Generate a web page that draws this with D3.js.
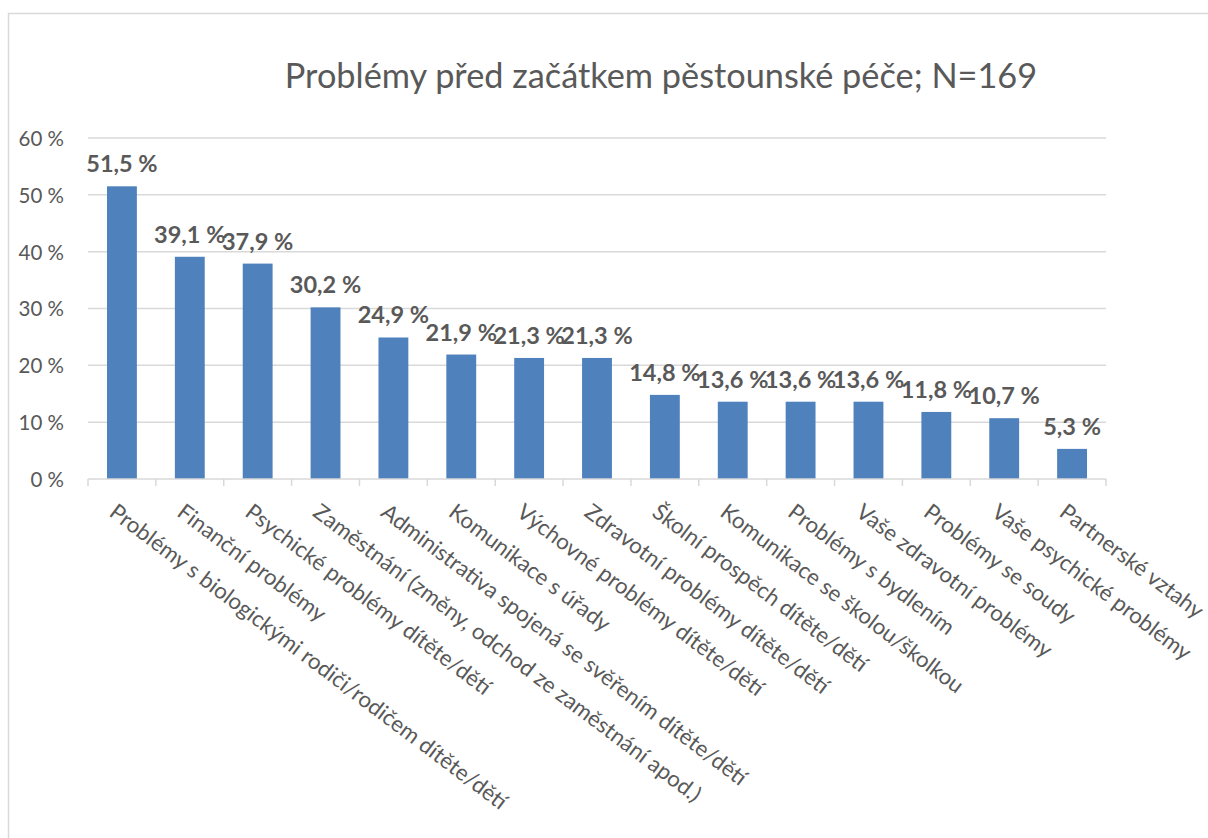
<!DOCTYPE html>
<html>
<head>
<meta charset="utf-8">
<script src="https://cdn.jsdelivr.net/npm/d3@7"></script>
<style>
  html, body { margin: 0; padding: 0; background: #fff; }
  svg { display: block; }
  text { font-family: Lato, "Open Sans", sans-serif; fill: #595959; }
</style>
</head>
<body>
<svg id="chart"></svg>
<script>
// data
const title = 'Problémy před začátkem pěstounské péče; N=169';

const categories = [
  'Problémy s biologickými rodiči/rodičem dítěte/dětí',
  'Finanční problémy',
  'Psychické problémy dítěte/dětí',
  'Zaměstnání (změny, odchod ze zaměstnání apod.)',
  'Administrativa spojená se svěřením dítěte/dětí',
  'Komunikace s úřady',
  'Výchovné problémy dítěte/dětí',
  'Zdravotní problémy dítěte/dětí',
  'Školní prospěch dítěte/dětí',
  'Komunikace se školou/školkou',
  'Problémy s bydlením',
  'Vaše zdravotní problémy',
  'Problémy se soudy',
  'Vaše psychické problémy',
  'Partnerské vztahy'
];

const values = [51.5, 39.1, 37.9, 30.2, 24.9, 21.9, 21.3, 21.3, 14.8, 13.6, 13.6, 13.6, 11.8, 10.7, 5.3];

const yTicks = [0, 10, 20, 30, 40, 50, 60];

const width = 1208;
const height = 838;
const plotLeft = 88;
const plotRight = 1106;
const plotTop = 138;
const plotBottom = 479;
const labelAngle = 37;

const fmt = v => v.toFixed(1).replace('.', ',') + ' %';

const svg = d3.select('#chart')
  .attr('width', width)
  .attr('height', height);

svg.append('rect')
  .attr('width', width)
  .attr('height', height)
  .attr('fill', '#fff');

// chart area border
svg.append('rect')
  .attr('x', 8.5)
  .attr('y', 13.5)
  .attr('width', width + 100)
  .attr('height', height + 100)
  .attr('fill', 'none')
  .attr('stroke', '#d9d9d9')
  .attr('stroke-width', 1.5);

const x = d3.scaleBand()
  .domain(categories)
  .range([plotLeft, plotRight])
  .paddingInner(0.56)
  .paddingOuter(0.28);

const y = d3.scaleLinear()
  .domain([0, 60])
  .range([plotBottom, plotTop]);

// gridlines
svg.append('g')
  .selectAll('line')
  .data(yTicks.filter(t => t > 0))
  .join('line')
  .attr('x1', plotLeft)
  .attr('x2', plotRight)
  .attr('y1', d => y(d))
  .attr('y2', d => y(d))
  .attr('stroke', '#d9d9d9')
  .attr('stroke-width', 1.5);

// y axis labels
const yAxis = d3.axisLeft(y)
  .tickValues(yTicks)
  .tickSize(0)
  .tickPadding(0)
  .tickFormat(d => d + ' %');

const yG = svg.append('g')
  .attr('transform', `translate(64, 0)`)
  .call(yAxis);
yG.select('.domain').remove();
yG.selectAll('text')
  .attr('font-size', 20.5)
  .attr('dy', '0.36em')
  .attr('fill', '#595959')
  .style('font-family', 'Lato, "Open Sans", sans-serif');

// bars
svg.append('g')
  .selectAll('rect')
  .data(values)
  .join('rect')
  .attr('x', (d, i) => x(categories[i]))
  .attr('y', d => y(d))
  .attr('width', x.bandwidth())
  .attr('height', d => y(0) - y(d))
  .attr('fill', '#4f81bd');

// category axis line + ticks
const step = x.step();
const boundaries = d3.range(categories.length + 1).map(i => plotLeft + i * step);

svg.append('line')
  .attr('x1', plotLeft)
  .attr('x2', plotRight)
  .attr('y1', plotBottom)
  .attr('y2', plotBottom)
  .attr('stroke', '#d9d9d9')
  .attr('stroke-width', 1.5);

svg.append('g')
  .selectAll('line')
  .data(boundaries)
  .join('line')
  .attr('x1', d => d)
  .attr('x2', d => d)
  .attr('y1', plotBottom)
  .attr('y2', plotBottom + 7)
  .attr('stroke', '#d9d9d9')
  .attr('stroke-width', 1.5);

// data labels
svg.append('g')
  .selectAll('text')
  .data(values)
  .join('text')
  .attr('x', (d, i) => x(categories[i]) + x.bandwidth() / 2)
  .attr('y', d => y(d) - 14)
  .attr('text-anchor', 'middle')
  .attr('font-size', 23.5)
  .attr('font-weight', 'bold')
  .text(d => fmt(d));

// rotated category labels
svg.append('g')
  .selectAll('text')
  .data(categories)
  .join('text')
  .attr('transform', d => {
    const cx = x(d) + x.bandwidth() / 2 - 14;
    return `translate(${cx}, ${plotBottom + 36}) rotate(${labelAngle})`;
  })
  .attr('font-size', 22.2)
  .text(d => d);

// title
svg.append('text')
  .attr('x', 661)
  .attr('y', 88)
  .attr('text-anchor', 'middle')
  .attr('font-size', 34.3)
  .text(title);
</script>
</body>
</html>
